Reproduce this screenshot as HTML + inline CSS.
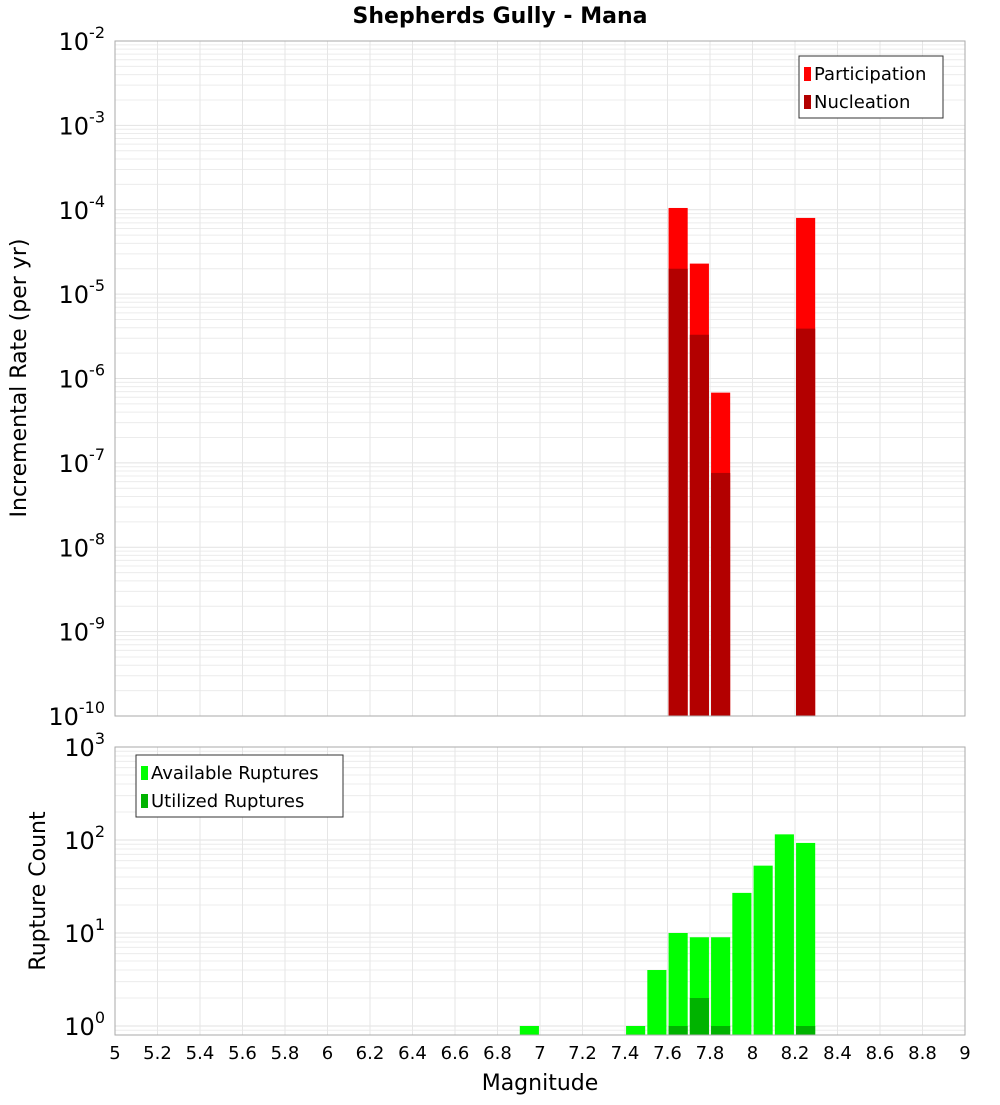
<!DOCTYPE html>
<html><head><meta charset="utf-8"><style>
body{margin:0;background:#fff;}
svg text{font-family:"DejaVu Sans","Liberation Sans",sans-serif;}
</style></head><body>
<svg id="c" width="1000" height="1100" xmlns="http://www.w3.org/2000/svg"></svg>
<script>
const xTicks=[5,5.2,5.4,5.6,5.8,6,6.2,6.4,6.6,6.8,7,7.2,7.4,7.6,7.8,8,8.2,8.4,8.6,8.8,9];
const rateBins=[7.65,7.75,7.85,8.25];
const participation=[1.05e-4,2.3e-5,6.8e-7,8e-5];
const nucleation=[2e-5,3.3e-6,7.6e-8,3.9e-6];
const countBins=[6.95,7.45,7.55,7.65,7.75,7.85,7.95,8.05,8.15,8.25];
const available=[1,1,4,10,9,9,27,53,115,93];
const utilizedBins=[7.65,7.75,7.85,8.25];
const utilized=[1,2,1,1];
const topExp=[-10,-9,-8,-7,-6,-5,-4,-3,-2];
const botExp=[0,1,2,3];

const svg=document.getElementById('c');
const NS='http://www.w3.org/2000/svg';
function mk(t,a,p){const e=document.createElementNS(NS,t);for(const k in a)e.setAttribute(k,a[k]);(p||svg).appendChild(e);return e;}
const L=115,R=965;
const X=v=>L+(v-5)/4*(R-L);
const T0=41,T1=716,Yt=v=>T0+(-2-Math.log10(v))*(T1-T0)/8;
const B0=747,B1=1035,DEC=93,Yb=v=>B0+(3-Math.log10(v))*DEC;

function panel(top,bot,yf,lo,hi,name){
  const g=mk('g',{});
  
  
  for(let e=lo;e<hi;e++)for(let m=1;m<10;m++){const y=yf(m*Math.pow(10,e));if(y<top||y>bot)continue;
    mk('line',{x1:L,x2:R,y1:y,y2:y,stroke:m==1?'#e2e2e2':'#ececec','stroke-width':1},g);}
  for(const t of xTicks){mk('line',{x1:X(t),x2:X(t),y1:top,y2:bot,stroke:'#e6e6e6'},g);}
}
function frame(top,bot,name){const r=mk('rect',{x:L,y:top,width:R-L,height:bot-top,fill:'none',stroke:'#aaa'});
  }
function bar(cx,v,yf,bot,fill,name){const x0=X(cx-0.045),x1=X(cx+0.045);const y=yf(v);
  const r=mk('rect',{x:x0,y:y,width:x1-x0,height:bot-y,fill:fill});
  }
function ylab(e,y,name){const t=mk('text',{x:105,y:y+9,'text-anchor':'end','font-size':24,fill:'#000'});
  
  t.textContent='10';const s=mk('tspan',{dy:-12,'font-size':16},t);s.textContent=e;}

// top panel
panel(T0,T1,Yt,-10,-2,'rate');
participation.forEach((v,i)=>bar(rateBins[i],v,Yt,T1,'#ff0000','participation-bar'));
nucleation.forEach((v,i)=>bar(rateBins[i],v,Yt,T1,'#b30000','nucleation-bar'));
frame(T0,T1,'rate-plot');
topExp.forEach(e=>ylab(e,Yt(Math.pow(10,e)),'rate-y-tick'));
// bottom panel
panel(B0,B1,Yb,-1,3,'count');
available.forEach((v,i)=>bar(countBins[i],v,Yb,B1,'#00ff00','available-bar'));
utilized.forEach((v,i)=>bar(utilizedBins[i],v,Yb,B1,'#00b300','utilized-bar'));
frame(B0,B1,'count-plot');
botExp.forEach(e=>ylab(e,Yb(Math.pow(10,e)),'count-y-tick'));
// x ticks
xTicks.forEach(t=>{const l=mk('text',{x:X(t),y:1059,'text-anchor':'middle','font-size':18});
  l.textContent=String(t);});
function txt(s,a,name){const t=mk('text',a);t.textContent=s;return t;}
txt('Shepherds Gully - Mana',{x:500,y:23,'text-anchor':'middle','font-size':22,'font-weight':'bold'},'chart-title');
txt('Magnitude',{x:540,y:1090,'text-anchor':'middle','font-size':22},'x-axis-title');
txt('Incremental Rate (per yr)',{x:0,y:0,'text-anchor':'middle','font-size':22,transform:'translate(26,378) rotate(-90)'},'rate-y-axis-title');
txt('Rupture Count',{x:0,y:0,'text-anchor':'middle','font-size':22,transform:'translate(45,891) rotate(-90)'},'count-y-axis-title');
// legends
function legend(x,y,w,items,name){const g=mk('g',{});
  mk('rect',{x:x,y:y,width:w,height:62,fill:'#fff',stroke:'#333'},g);
  items.forEach((it,i)=>{const r=mk('rect',{x:x+5,y:y+11+i*28,width:7,height:14,fill:it[1]},g);
    
    const t=mk('text',{x:x+15,y:y+24+i*28,'font-size':18},g);t.textContent=it[0];});}
legend(799,56,144,[['Participation','#ff0000'],['Nucleation','#b30000']],'rate-legend');
legend(136,755,207,[['Available Ruptures','#00ff00'],['Utilized Ruptures','#00b300']],'count-legend');
</script>
</body></html>
